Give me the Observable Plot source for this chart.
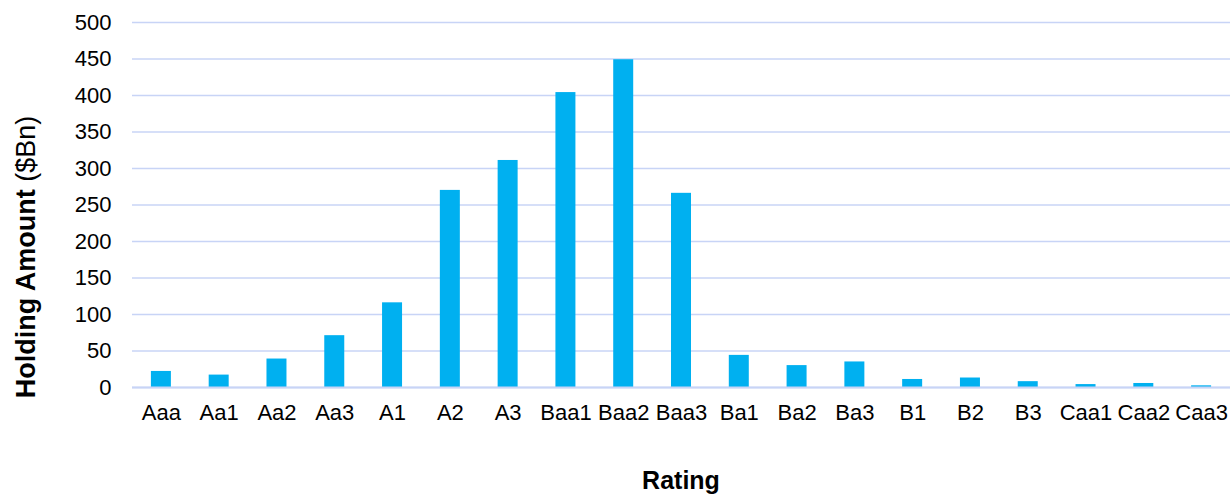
<!DOCTYPE html>
<html>
<head>
<meta charset="utf-8">
<script src="https://cdn.jsdelivr.net/npm/d3@7"></script>
<script src="https://cdn.jsdelivr.net/npm/@observablehq/plot@0.6"></script>
<style>
  html, body { margin: 0; padding: 0; background: #fff; }
  #chart svg { display: block; font-family: "Liberation Sans", Arial, sans-serif; }
</style>
</head>
<body>
<div id="chart"></div>
<script>
const ratings = ["Aaa","Aa1","Aa2","Aa3","A1","A2","A3","Baa1","Baa2","Baa3","Ba1","Ba2","Ba3","B1","B2","B3","Caa1","Caa2","Caa3"];
const amounts = [22, 17, 39, 71, 116, 270, 311, 404, 449, 266, 44, 30, 35, 11, 13, 8, 4, 5.5, 2.3];
const yTicks = [0, 50, 100, 150, 200, 250, 300, 350, 400, 450, 500];

const data = ratings.map((r, i) => ({rating: r, amount: amounts[i]}));

const chart = Plot.plot({
  width: 1230,
  height: 495,
  marginLeft: 132,
  marginRight: 0,
  marginTop: 22,
  marginBottom: 108,
  style: {fontFamily: '"Liberation Sans", Arial, sans-serif', fontSize: "22px", color: "#000", background: "#fff"},
  x: {domain: ratings, paddingInner: 0.654, paddingOuter: 0.327, round: false, label: null},
  y: {domain: [0, 500], label: null},
  marks: [
    Plot.gridY(yTicks, {stroke: "#c8d4f6", strokeOpacity: 1, strokeWidth: 1.5}),
    Plot.barY(data, {x: "rating", y: "amount", fill: "#00b0f0"}),
    Plot.ruleY([0], {stroke: "#c8d4f6", strokeWidth: 2}),
    Plot.axisX({tickSize: 0, tickPadding: 17, fontSize: 22, fill: "#000"}),
    Plot.axisY(yTicks, {tickSize: 0, tickPadding: 21, fontSize: 22, fill: "#000", label: null})
  ]
});

const svg = d3.select(chart);
// Y axis title with mixed weights
const yt = svg.append("text")
  .attr("transform", "translate(35,257) rotate(-90)")
  .attr("text-anchor", "middle")
  .attr("font-size", 27)
  .attr("fill", "#000");
yt.append("tspan").attr("font-weight", "bold").text("Holding Amount");
yt.append("tspan").attr("font-weight", "normal").text(" ($Bn)");
// X axis title
svg.append("text")
  .attr("x", 681)
  .attr("y", 489)
  .attr("text-anchor", "middle")
  .attr("font-size", 25)
  .attr("font-weight", "bold")
  .attr("fill", "#000")
  .text("Rating");

document.getElementById("chart").appendChild(chart);
</script>
</body>
</html>
